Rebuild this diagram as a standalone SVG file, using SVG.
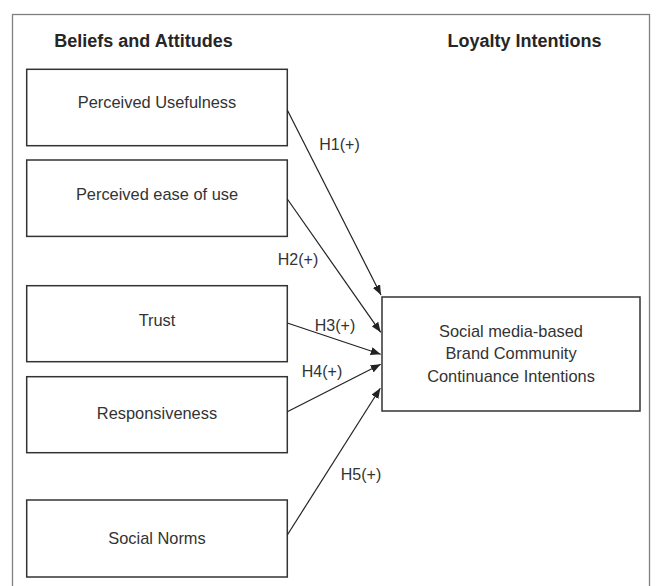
<svg xmlns="http://www.w3.org/2000/svg" width="657" height="586" viewBox="0 0 657 586">
  <style>
    .frame { fill: none; stroke: #808080; stroke-width: 1.3; }
    .box { fill: #ffffff; stroke: #333333; stroke-width: 1.5; }
    .head { font-family: "Liberation Sans", Arial, sans-serif; font-size: 18px; font-weight: bold; fill: #262626; text-anchor: middle; }
    .lbl { font-family: "Liberation Sans", Arial, sans-serif; font-size: 16.4px; fill: #333333; text-anchor: middle; }
    .hyp { font-family: "Liberation Sans", Arial, sans-serif; font-size: 16px; fill: #333333; text-anchor: middle; }
    .arrow { fill: none; stroke: #222222; stroke-width: 1.2; marker-end: url(#head); }
  </style>
  <defs>
    <marker id="head" viewBox="0 0 10 8" refX="10" refY="4" markerWidth="10" markerHeight="8" markerUnits="userSpaceOnUse" orient="auto">
      <path d="M0,0 L10,4 L0,8 Z" fill="#222222"/>
    </marker>
  </defs>

  <rect width="657" height="586" fill="#ffffff"/>

  <!-- outer panel, open at the bottom -->
  <rect class="frame" x="12.5" y="14.5" width="637" height="620"/>

  <!-- column headings -->
  <text class="head" x="143.5" y="47.3">Beliefs and Attitudes</text>
  <text class="head" x="524.5" y="47">Loyalty Intentions</text>

  <g id="perceived-usefulness">
    <rect class="box" x="26.7" y="69.3" width="260.6" height="76.4"/>
    <text class="lbl" x="157" y="107.5">Perceived Usefulness</text>
  </g>
  <g id="perceived-ease-of-use">
    <rect class="box" x="26.7" y="160" width="260.6" height="76.4"/>
    <text class="lbl" x="157" y="200">Perceived ease of use</text>
  </g>
  <g id="trust">
    <rect class="box" x="26.7" y="285.7" width="260.6" height="76"/>
    <text class="lbl" x="157" y="326">Trust</text>
  </g>
  <g id="responsiveness">
    <rect class="box" x="26.7" y="376.7" width="260.6" height="76"/>
    <text class="lbl" x="157" y="418.7">Responsiveness</text>
  </g>
  <g id="social-norms">
    <rect class="box" x="26.7" y="500" width="260.6" height="77"/>
    <text class="lbl" x="157" y="544">Social Norms</text>
  </g>
  <g id="continuance-intentions">
    <rect class="box" x="382" y="297" width="258" height="114"/>
    <text class="lbl" x="511" y="336.7">Social media-based</text>
    <text class="lbl" x="511" y="358.9">Brand Community</text>
    <text class="lbl" x="511" y="381.7">Continuance Intentions</text>
  </g>

  <g id="connectors">
    <line class="arrow" x1="287.3" y1="110" x2="381" y2="295"/>
    <line class="arrow" x1="287.3" y1="199" x2="380.7" y2="332.3"/>
    <line class="arrow" x1="287.3" y1="323" x2="380.7" y2="354.3"/>
    <line class="arrow" x1="287.3" y1="411.7" x2="380.7" y2="364.3"/>
    <line class="arrow" x1="287.3" y1="535" x2="380.3" y2="388.3"/>
    <text class="hyp" x="339.5" y="150">H1(+)</text>
    <text class="hyp" x="298" y="265">H2(+)</text>
    <text class="hyp" x="335" y="331">H3(+)</text>
    <text class="hyp" x="322" y="376.7">H4(+)</text>
    <text class="hyp" x="361" y="480">H5(+)</text>
  </g>
</svg>
